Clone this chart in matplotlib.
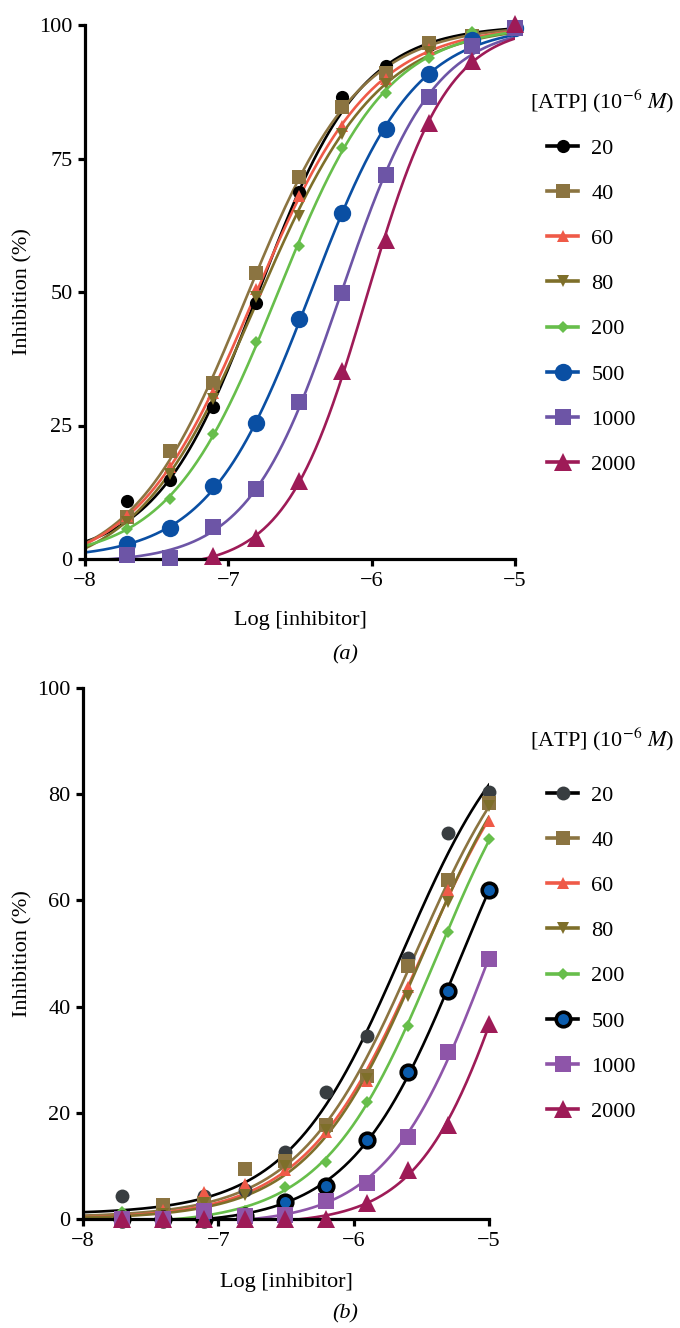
import numpy as np
import matplotlib
matplotlib.use('Agg')
import matplotlib.pyplot as plt

plt.rcParams['font.family'] = ['Liberation Serif', 'DejaVu Serif']
plt.rcParams['mathtext.fontset'] = 'stix'

# ---------------- data ----------------
log_conc = [-7.709, -7.408, -7.107, -6.806, -6.505, -6.204, -5.903, -5.602, -5.301, -5.0]
atp_labels = ['20', '40', '60', '80', '200', '500', '1000', '2000']

# panel (a)
a_20 = [10.9, 14.8, 28.4, 47.9, 68.7, 86.6, 92.4, 96.3, 98.0, 99.5]
a_40 = [7.8, 20.2, 32.9, 53.6, 71.5, 84.6, 91.0, 96.7, 98.0, 99.5]
a_60 = [8.0, 17.2, 31.0, 50.5, 68.0, 81.0, 89.8, 95.5, 97.5, 99.5]
a_80 = [7.0, 16.0, 30.0, 49.0, 64.2, 79.5, 89.0, 95.0, 97.5, 99.5]
a_200 = [5.6, 11.3, 23.4, 40.6, 58.7, 77.0, 87.2, 93.9, 98.6, 99.5]
a_500 = [2.8, 5.8, 13.6, 25.4, 45.0, 64.8, 80.5, 90.8, 97.2, 99.5]
a_1000 = [0.75, 0.2, 5.9, 13.1, 29.4, 49.8, 72.0, 86.5, 96.1, 99.5]
a_2000 = [np.nan, np.nan, 0.6, 3.9, 14.6, 35.2, 59.8, 81.6, 93.3, 100.2]

# panel (b)
b_20 = [4.4, 2.0, 4.25, 5.4, 12.7, 23.9, 34.4, 49.1, 72.6, 80.5]
b_40 = [0.2, 2.7, 3.0, 9.4, 11.0, 17.7, 27.0, 47.7, 63.9, 78.4]
b_60 = [0.5, 1.75, 5.0, 6.5, 9.25, 16.3, 26.0, 43.6, 61.9, 75.0]
b_80 = [0.0, 1.0, 3.0, 4.5, 10.0, 16.75, 26.4, 42.0, 59.7, 77.8]
b_200 = [1.4, 0.0, 0.6, 1.6, 6.1, 10.8, 22.0, 36.4, 54.1, 71.6]
b_500 = [0.0, 0.0, 0.0, 0.6, 3.2, 6.25, 14.9, 27.7, 43.0, 61.9]
b_1000 = [0.0, 0.0, 1.5, 0.5, 0.8, 3.3, 6.75, 15.5, 31.4, 48.9]
b_2000 = [0.0, 0.0, 0.0, 0.0, 0.0, 0.0, 3.0, 9.25, 17.7, 36.75]

# fitted-curve baselines (bottom plateau)
b_bottoms = [0.9, 0.3, 0.0, 0.0, -1.0, -1.0, -1.0, -1.0]

a_data = [a_20, a_40, a_60, a_80, a_200, a_500, a_1000, a_2000]
b_data = [b_20, b_40, b_60, b_80, b_200, b_500, b_1000, b_2000]

# ---------------- styles ----------------
a_styles = [
    dict(color='#000000', marker='o', ms=9.5, mfc='#000000', mec='#000000', mew=0),
    dict(color='#8B7441', marker='s', ms=10, mfc='#8B7441', mec='#8B7441', mew=0),
    dict(color='#EF5A48', marker='^', ms=9, mfc='#EF5A48', mec='#EF5A48', mew=0),
    dict(color='#7E6F2A', marker='v', ms=9, mfc='#7E6F2A', mec='#7E6F2A', mew=0),
    dict(color='#67BE4B', marker='D', ms=6.5, mfc='#67BE4B', mec='#67BE4B', mew=0),
    dict(color='#0A4FA3', marker='o', ms=12.5, mfc='#0A4FA3', mec='#0A4FA3', mew=0),
    dict(color='#6D55A6', marker='s', ms=12, mfc='#6D55A6', mec='#6D55A6', mew=0),
    dict(color='#9E1B57', marker='^', ms=13, mfc='#9E1B57', mec='#9E1B57', mew=0),
]
b_styles = [
    dict(color='#000000', marker='o', ms=10, mfc='#383D40', mec='#383D40', mew=0),
    dict(color='#8B7441', marker='s', ms=10.5, mfc='#8B7441', mec='#8B7441', mew=0),
    dict(color='#EF5A48', marker='^', ms=9, mfc='#EF5A48', mec='#EF5A48', mew=0),
    dict(color='#7E6F2A', marker='v', ms=9, mfc='#7E6F2A', mec='#7E6F2A', mew=0),
    dict(color='#67BE4B', marker='D', ms=6.5, mfc='#67BE4B', mec='#67BE4B', mew=0),
    dict(color='#000000', marker='o', ms=10.5, mfc='#0B5CAD', mec='#000000', mew=2.6),
    dict(color='#8E55A9', marker='s', ms=12, mfc='#8E55A9', mec='#8E55A9', mew=0),
    dict(color='#9E1B57', marker='^', ms=13, mfc='#9E1B57', mec='#9E1B57', mew=0),
]


def fit_curve(x, y, top=100.0, bmax=None, bottom=None):
    """Least-squares 4PL fit with fixed top (grid over logIC50 & Hill, linear in bottom)."""
    x = np.asarray(x, float)
    y = np.asarray(y, float)
    m = ~np.isnan(y)
    x, y = x[m], y[m]
    cs = np.arange(-8.5, -3.0, 0.005)
    hs = np.arange(0.4, 3.0, 0.01)
    C, H = np.meshgrid(cs, hs, indexing='ij')
    s = 1.0 / (1.0 + 10 ** ((C[..., None] - x) * H[..., None]))
    r = y - top * s
    u = 1 - s
    if bottom is None:
        b = (r * u).sum(-1) / (u * u).sum(-1)
        if bmax is not None:
            b = np.minimum(b, bmax)
    else:
        b = np.full(C.shape, float(bottom))
    res = ((r - b[..., None] * u) ** 2).sum(-1)
    i = np.unravel_index(np.argmin(res), res.shape)
    return b[i], C[i], H[i], top


def model(xx, p):
    b, c, h, t = p
    return b + (t - b) / (1 + 10 ** ((c - xx) * h))


W, H = 680, 1328
fig = plt.figure(figsize=(W / 100, H / 100), dpi=100)


def px_rect(l, t, r, b):
    return [l / W, 1 - b / H, (r - l) / W, (b - t) / H]


FS = 16


def draw_panel(rect, data, styles, yticks, title_y, legend_y, panel_label, label_y,
               xlabel_y, bmax, bottoms):
    ax = fig.add_axes(px_rect(*rect))
    xx = np.linspace(-8, -5, 400)
    handles = []
    for k, (vals, st) in enumerate(zip(data, styles)):
        bot = None if bottoms is None else bottoms[k]
        p = fit_curve(log_conc, vals, bmax=bmax, bottom=bot)
        ax.plot(xx, model(xx, p), color=st['color'], lw=1.9, zorder=2)
        ax.plot(log_conc, vals, ls='none', marker=st['marker'], ms=st['ms'],
                mfc=st['mfc'], mec=st['mec'], mew=st['mew'], clip_on=False, zorder=3)
        h, = ax.plot([], [], color=st['color'], lw=2.6, marker=st['marker'], ms=st['ms'],
                     mfc=st['mfc'], mec=st['mec'], mew=st['mew'])
        handles.append(h)
    ax.set_xlim(-8, -5)
    ax.set_ylim(0, 100)
    ax.set_xticks([-8, -7, -6, -5])
    ax.set_yticks(yticks)
    for s in ['top', 'right']:
        ax.spines[s].set_visible(False)
    for s in ['left', 'bottom']:
        ax.spines[s].set_linewidth(2.3)
    ax.tick_params(direction='out', length=5, width=2.3, labelsize=FS, pad=4)
    l, t, r, b = rect
    fig.text(23 / W, 1 - ((t + b) / 2) / H, 'Inhibition (%)', fontsize=FS,
             rotation=90, ha='center', va='center')
    fig.text(((l + r) / 2) / W, 1 - xlabel_y / H, 'Log [inhibitor]', fontsize=FS,
             ha='center', va='center')
    fig.text(530 / W, 1 - title_y / H, r'[ATP] (10$^{-6}$ $\mathit{M}$)', fontsize=FS,
             ha='left', va='center')
    ax.legend(handles, atp_labels, loc='upper left',
              bbox_to_anchor=(547 / W, 1 - legend_y / H), bbox_transform=fig.transFigure,
              frameon=False, fontsize=FS, borderpad=0, borderaxespad=0,
              handlelength=1.4, handletextpad=0.6, labelspacing=1.11)
    fig.text(345 / W, 1 - label_y / H, panel_label, fontsize=FS, style='italic',
             ha='center', va='center')
    return ax


draw_panel((85, 25, 515, 559), a_data, a_styles, [0, 25, 50, 75, 100],
           title_y=101, legend_y=138, panel_label='(a)', label_y=655, xlabel_y=621,
           bmax=0.0, bottoms=None)
draw_panel((83, 688, 489, 1219), b_data, b_styles, [0, 20, 40, 60, 80, 100],
           title_y=739, legend_y=785, panel_label='(b)', label_y=1314, xlabel_y=1283,
           bmax=None, bottoms=b_bottoms)

fig.savefig('out.png', dpi=100)
